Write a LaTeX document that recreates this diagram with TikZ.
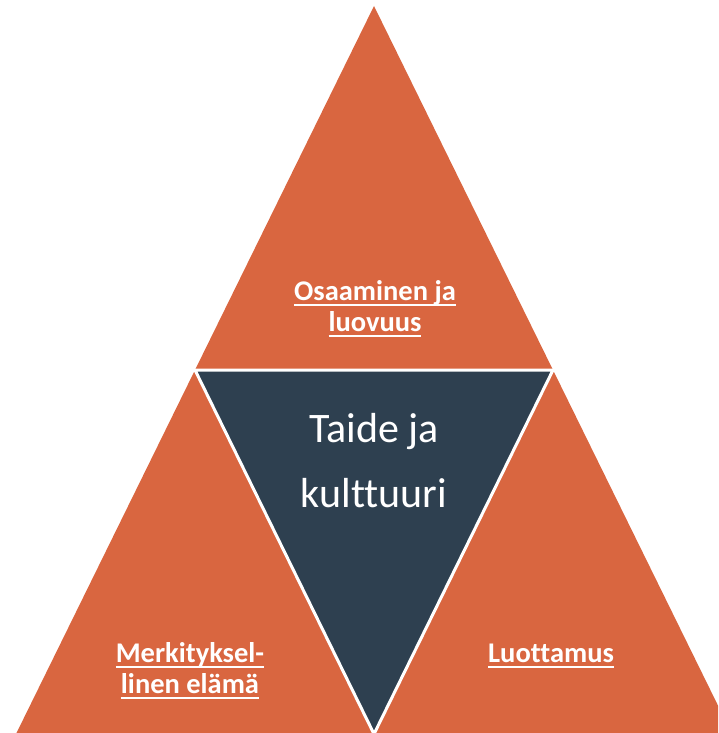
\documentclass[tikz,border=0pt]{standalone}
\usepackage{fontspec}
\setmainfont{Carlito}[Ligatures={NoCommon}]
\definecolor{oranssi}{RGB}{217,102,64}
\definecolor{tumma}{RGB}{46,64,80}
\newcommand\ulab[1]{\setbox0=\hbox{#1}\rlap{\rule[-6pt]{\wd0}{1.8pt}}\box0}
\tikzset{
  pieni/.style={white, font=\fontsize{28.5}{31}\selectfont\bfseries, align=center, inner sep=0pt},
  iso/.style={white, font=\fontsize{42}{65}\selectfont, align=center, inner sep=0pt}
}
\begin{document}
\begin{tikzpicture}[x=1pt, y=-1pt]
			\useasboundingbox (0,0) rectangle (718,733);
			\clip (0,0) rectangle (718,733);
			\fill[oranssi] (374,6) -- (16,734) -- (732,734) -- cycle;
			\fill[tumma, draw=white, line width=3pt, line join=miter] (195,370) -- (553,370) -- (374,734) -- cycle;
			\node[pieni, anchor=base] (osaaminen) at (375,331) {\ulab{Osaaminen ja}\\\ulab{luovuus}};
			\node[iso, anchor=base] (taide) at (374,507) {Taide ja\\kulttuuri};
			\node[pieni, anchor=base] (merkitys) at (190,693) {\ulab{Merkityksel-}\\\ulab{linen elämä}};
			\node[pieni, anchor=base] (luottamus) at (551,662) {\ulab{Luottamus}};
		\end{tikzpicture}
\end{document}
